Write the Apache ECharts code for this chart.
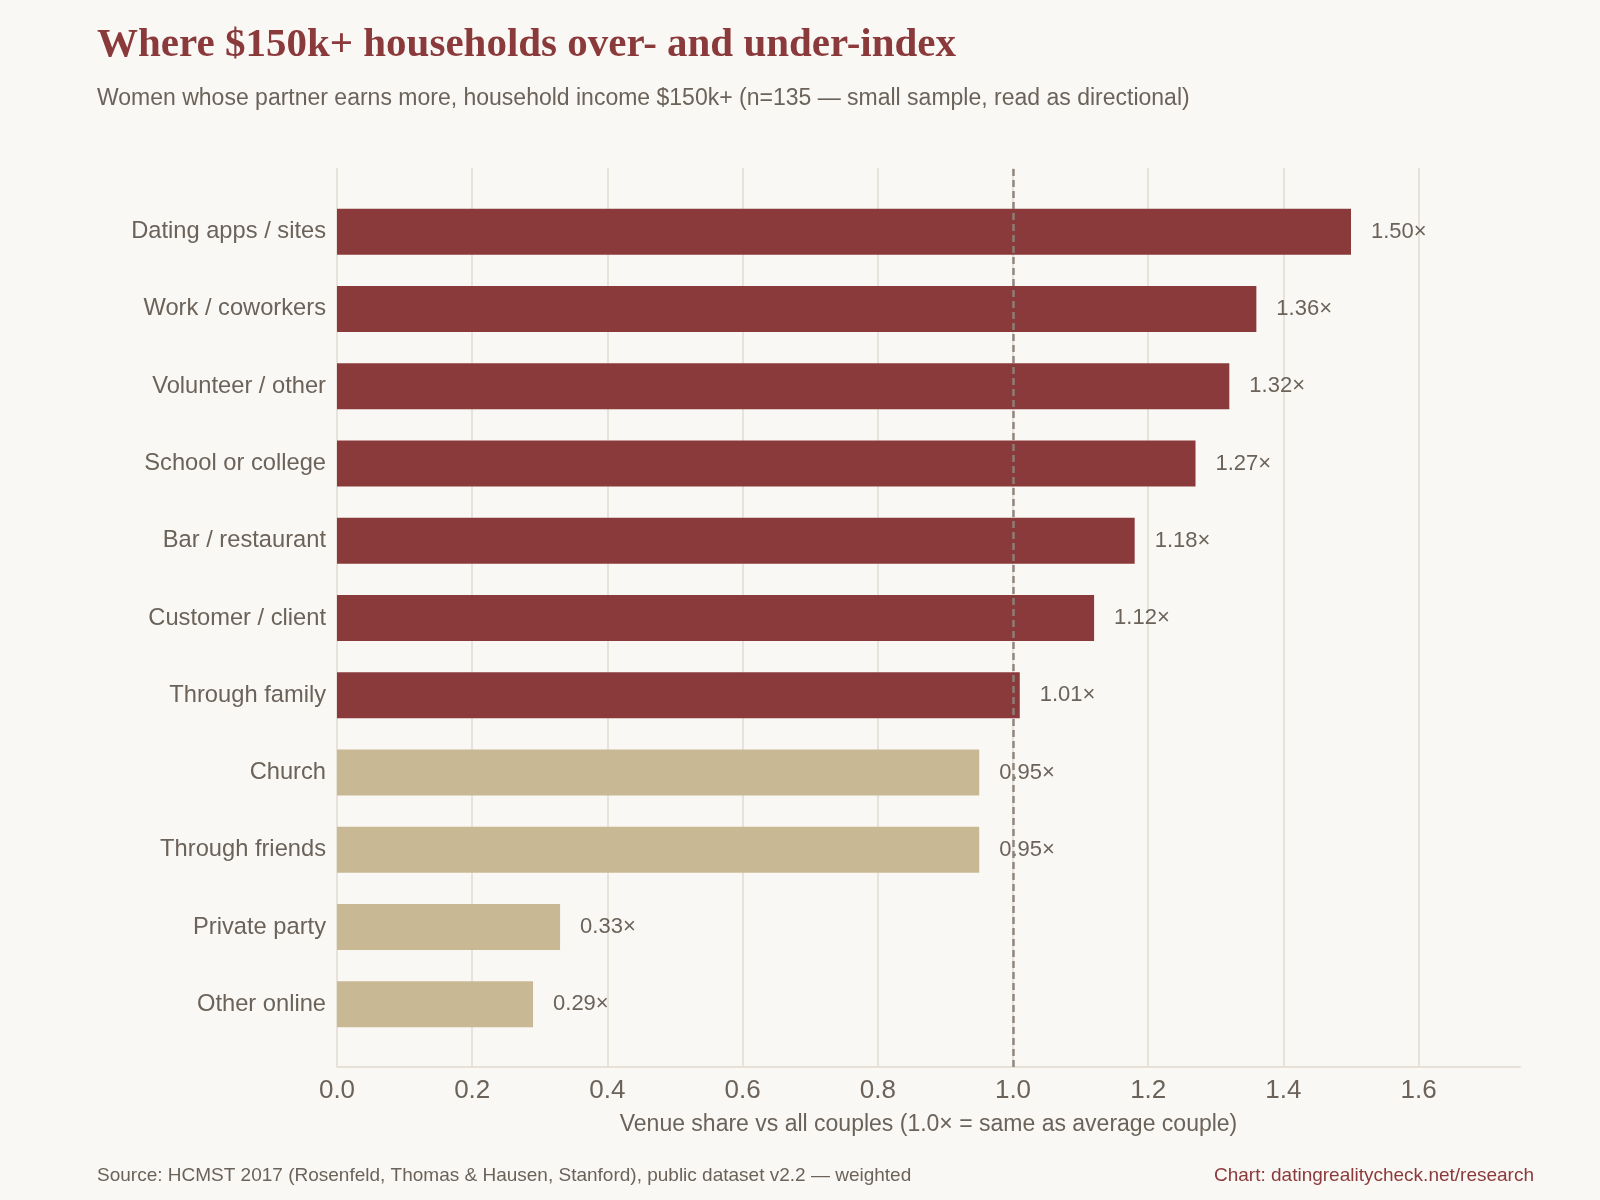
<!DOCTYPE html>
<html>
<head>
<meta charset="utf-8">
<script src="https://cdn.jsdelivr.net/npm/echarts@6/dist/echarts.min.js"></script>
<style>
  html, body { margin: 0; padding: 0; background: #faf8f4; }
  #chart { width: 1600px; height: 1200px; }
</style>
</head>
<body>
<div id="chart"></div>
<script>
const categories = [
  "Dating apps / sites", "Work / coworkers", "Volunteer / other", "School or college",
  "Bar / restaurant", "Customer / client", "Through family", "Church",
  "Through friends", "Private party", "Other online"
];
const values = [1.50, 1.36, 1.32, 1.27, 1.18, 1.12, 1.01, 0.95, 0.95, 0.33, 0.29];
const referenceValue = 1.0;
const xTicks = { min: 0, max: 1.75, interval: 0.2 };

const RED = '#8b3a3c';
const TAN = '#c9b894';
const TEXT = '#6b635a';
const SANS = '"Liberation Sans", Arial, Helvetica, sans-serif';

const chart = echarts.init(document.getElementById('chart'), null, { renderer: 'canvas' });

const L = 337, W = 1183;

chart.setOption({
  backgroundColor: '#faf8f4',
  animation: false,
  title: [
    {
      text: 'Where $150k+ households over- and under-index',
      left: 92, top: 20,
      textStyle: { fontFamily: '"Liberation Serif", "DejaVu Serif", serif', fontWeight: 'bold', fontSize: 41, color: RED }
    },
    {
      text: 'Women whose partner earns more, household income $150k+ (n=135 — small sample, read as directional)',
      left: 92, top: 82,
      textStyle: { fontFamily: SANS, fontWeight: 'normal', fontSize: 23, color: TEXT }
    },
    {
      text: 'Source: HCMST 2017 (Rosenfeld, Thomas & Hausen, Stanford), public dataset v2.2 — weighted',
      left: 92, top: 1161,
      textStyle: { fontFamily: SANS, fontWeight: 'normal', fontSize: 19, color: TEXT }
    },
    {
      text: 'Chart: datingrealitycheck.net/research',
      right: 61, top: 1161,
      textStyle: { fontFamily: SANS, fontWeight: 'normal', fontSize: 19, color: RED }
    }
  ],
  grid: [
    { left: L, width: W, top: 168, height: 899 },
    { left: L, width: W, top: 193, height: 850 }
  ],
  xAxis: [
    {
      gridIndex: 0, type: 'value', min: xTicks.min, max: xTicks.max, interval: xTicks.interval,
      axisLine: { show: true, lineStyle: { color: '#e6e0d6', width: 2 } },
      axisTick: { show: false },
      axisLabel: {
        fontFamily: SANS, fontSize: 26, color: TEXT, margin: 11, showMaxLabel: false,
        formatter: v => v.toFixed(1)
      },
      splitLine: { show: true, showMaxLine: false, lineStyle: { color: '#e8e3da', width: 2 } },
      name: 'Venue share vs all couples (1.0× = same as average couple)',
      nameLocation: 'middle', nameGap: 46,
      nameTextStyle: { fontFamily: SANS, fontSize: 23, color: TEXT }
    },
    {
      gridIndex: 1, type: 'value', min: xTicks.min, max: xTicks.max, interval: xTicks.interval,
      show: false
    }
  ],
  yAxis: [
    {
      gridIndex: 0, type: 'value', min: 0, max: 1, show: false
    },
    {
      gridIndex: 1, type: 'category', data: categories, inverse: true,
      axisLine: { show: false }, axisTick: { show: false },
      axisLabel: { fontFamily: SANS, fontSize: 23.7, color: TEXT, margin: 11 }
    }
  ],
  series: [
    {
      type: 'bar', xAxisIndex: 1, yAxisIndex: 1,
      data: values,
      barWidth: 46,
      itemStyle: { color: p => (p.value >= referenceValue ? RED : TAN) },
      label: {
        show: true, position: 'right', distance: 20,
        fontFamily: SANS, fontSize: 22, color: TEXT,
        formatter: p => p.value.toFixed(2) + '×'
      },
      z: 2
    },
    {
      type: 'line', xAxisIndex: 0, yAxisIndex: 0, data: [], z: 10,
      markLine: {
        silent: true, symbol: 'none',
        label: { show: false },
        emphasis: { disabled: true },
        lineStyle: { type: [7, 4], color: '#8c8279', width: 2.5, opacity: 0.95 },
        data: [{ xAxis: referenceValue }]
      }
    }
  ]
});
</script>
</body>
</html>
